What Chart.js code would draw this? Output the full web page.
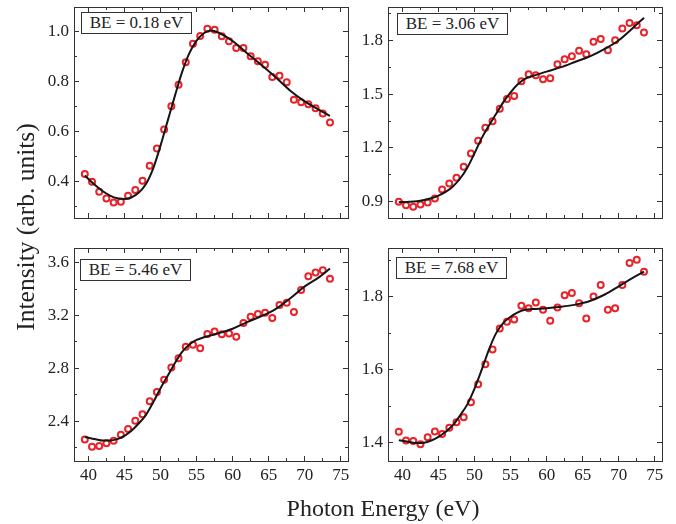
<!DOCTYPE html>
<html>
<head>
<meta charset="utf-8">
<script src="https://cdn.jsdelivr.net/npm/chart.js@4.4.0/dist/chart.umd.min.js"></script>
<style>
  body { margin: 0; background: #fff; }
  #wrap { position: relative; width: 676px; height: 524px; overflow: hidden; font-family: 'Liberation Serif', 'Times New Roman', serif; color: #222; }
  canvas { position: absolute; left: 0; top: 0; }
  .be { position: absolute; width: 109px; height: 20px; border: 1px solid #333; background: #fff; font-size: 17px; line-height: 20px; text-align: center; white-space: nowrap; }
  .title { position: absolute; white-space: nowrap; text-align: center; }
</style>
</head>
<body>
<div id="wrap">
  <canvas id="c1" width="676" height="524"></canvas>
  <canvas id="c2" width="676" height="524"></canvas>
  <canvas id="c3" width="676" height="524"></canvas>
  <canvas id="c4" width="676" height="524"></canvas>
  <div class="be" style="left:81px; top:12px;">BE = 0.18 eV</div>
  <div class="be" style="left:397px; top:13px;">BE = 3.06 eV</div>
  <div class="be" style="left:80px; top:259px;">BE = 5.46 eV</div>
  <div class="be" style="left:396px; top:257px;">BE = 7.68 eV</div>
  <div class="title" style="left:183px; top:496px; width:400px; font-size:24px; line-height:24px;">Photon Energy (eV)</div>
  <div class="title" style="left:-124px; top:212px; width:300px; height:30px; font-size:25.5px; line-height:30px; transform: rotate(-90deg);">Intensity (arb. units)</div>
</div>
<script>
// photon energies of the measured points
var photonEnergy = [39.5, 40.5, 41.5, 42.5, 43.5, 44.5, 45.5, 46.5, 47.5, 48.5,
  49.5, 50.5, 51.5, 52.5, 53.5, 54.5, 55.5, 56.5, 57.5, 58.5,
  59.5, 60.5, 61.5, 62.5, 63.5, 64.5, 65.5, 66.5, 67.5, 68.5,
  69.5, 70.5, 71.5, 72.5, 73.5];
// energies where the fit curve was read
var fitEnergy = [39.5, 41, 42, 43, 44, 45, 46, 47, 48, 49, 50, 51, 52, 53, 54,
  55, 56, 57, 58, 60, 62, 64, 66, 68, 70, 72, 73.5];

var be018 = [0.431, 0.400, 0.360, 0.333, 0.317, 0.320, 0.344, 0.367, 0.404, 0.464,
  0.533, 0.609, 0.703, 0.789, 0.879, 0.953, 0.984, 1.013, 1.009, 0.983,
  0.963, 0.936, 0.936, 0.903, 0.883, 0.869, 0.820, 0.825, 0.799, 0.729,
  0.719, 0.711, 0.695, 0.673, 0.637];
var be018Fit = [0.425, 0.385, 0.362, 0.345, 0.334, 0.331, 0.338, 0.357, 0.392, 0.455,
  0.545, 0.645, 0.745, 0.840, 0.915, 0.965, 0.995, 1.006, 0.998, 0.964,
  0.915, 0.868, 0.818, 0.765, 0.722, 0.688, 0.664];

var be306 = [0.900, 0.881, 0.872, 0.885, 0.896, 0.919, 0.969, 1.002, 1.034, 1.095,
  1.169, 1.240, 1.312, 1.349, 1.418, 1.472, 1.490, 1.572, 1.611, 1.605,
  1.583, 1.588, 1.666, 1.694, 1.711, 1.741, 1.722, 1.791, 1.807, 1.744,
  1.800, 1.865, 1.896, 1.883, 1.843];
var be306Fit = [0.898, 0.900, 0.903, 0.910, 0.920, 0.935, 0.955, 0.985, 1.030, 1.090,
  1.170, 1.255, 1.325, 1.390, 1.455, 1.510, 1.555, 1.585, 1.600, 1.625,
  1.650, 1.680, 1.710, 1.750, 1.800, 1.870, 1.925];

var be546 = [2.262, 2.207, 2.214, 2.234, 2.254, 2.299, 2.342, 2.405, 2.453, 2.551,
  2.621, 2.714, 2.807, 2.877, 2.963, 2.978, 2.952, 3.060, 3.078, 3.058,
  3.063, 3.040, 3.143, 3.191, 3.211, 3.221, 3.181, 3.279, 3.296, 3.226,
  3.392, 3.497, 3.525, 3.542, 3.477];
var be546Fit = [2.282, 2.265, 2.255, 2.255, 2.265, 2.290, 2.330, 2.385, 2.450, 2.545,
  2.650, 2.745, 2.840, 2.925, 2.980, 3.015, 3.035, 3.050, 3.065, 3.100,
  3.150, 3.195, 3.250, 3.330, 3.420, 3.490, 3.555];

var be768 = [1.430, 1.406, 1.405, 1.396, 1.415, 1.431, 1.424, 1.441, 1.456, 1.470,
  1.511, 1.560, 1.615, 1.655, 1.713, 1.731, 1.737, 1.775, 1.768, 1.784,
  1.764, 1.734, 1.770, 1.804, 1.810, 1.782, 1.740, 1.800, 1.832, 1.764,
  1.768, 1.832, 1.892, 1.901, 1.868];
var be768Fit = [1.407, 1.402, 1.399, 1.400, 1.406, 1.416, 1.430, 1.448, 1.475, 1.505,
  1.548, 1.600, 1.655, 1.700, 1.728, 1.745, 1.757, 1.764, 1.766, 1.768,
  1.772, 1.778, 1.788, 1.805, 1.828, 1.852, 1.868];

var energyTicks = [40, 45, 50, 55, 60, 65, 70, 75];
var energyMinorTicks = [42.5, 47.5, 52.5, 57.5, 62.5, 67.5, 72.5];

var ticks018 = [0.4, 0.6, 0.8, 1.0];
var minor018 = [0.3, 0.5, 0.7, 0.9];
var ticks306 = [0.9, 1.2, 1.5, 1.8];
var minor306 = [1.05, 1.35, 1.65, 1.95];
var ticks546 = [2.4, 2.8, 3.2, 3.6];
var minor546 = [2.2, 2.6, 3.0, 3.4];
var ticks768 = [1.4, 1.6, 1.8];
var minor768 = [1.5, 1.7, 1.9];

var frameColor = '#333';
var tickFont = { family: 'Liberation Serif', size: 17 };
var yLabelWidth = 45;
var xLabelHeight = 30;

function pairs(xs, ys) {
  var out = [];
  for (var i = 0; i < xs.length; i++) out.push({ x: xs[i], y: ys[i] });
  return out;
}

// len 5 = major ticks (and the frame line), len 3 = minor ticks
function axis(pos, min, max, tickVals, len, showLabels) {
  var horiz = (pos === 'top' || pos === 'bottom');
  var labelled = (pos === 'bottom' || pos === 'left') && len === 5;
  return {
    type: 'linear',
    position: pos,
    min: min,
    max: max,
    weight: len === 5 ? 1 : 0,
    afterBuildTicks: function(s) {
      s.ticks = tickVals.map(function(v) { return { value: v }; });
    },
    afterFit: function(s) {
      var size = labelled ? (horiz ? xLabelHeight : yLabelWidth) : 0;
      if (horiz) s.height = size; else s.width = size;
      s.paddingLeft = 0; s.paddingRight = 0; s.paddingTop = 0; s.paddingBottom = 0;
    },
    grid: { drawOnChartArea: false, drawTicks: true, tickLength: -len, tickColor: frameColor, tickWidth: 1 },
    border: { display: len === 5, color: frameColor, width: 1 },
    ticks: {
      display: showLabels,
      autoSkip: false,
      maxRotation: 0,
      padding: horiz ? 9 : 10,
      color: '#222',
      font: tickFont,
      callback: function(v) { return horiz ? String(v) : v.toFixed(1); }
    }
  };
}

function makePanel(id, area, yMin, yMax, yMajor, yMinor, values, fitValues, xLabels) {
  var ctx = document.getElementById(id).getContext('2d');
  return new Chart(ctx, {
    type: 'scatter',
    data: {
      datasets: [
        {
          data: pairs(fitEnergy, fitValues),
          showLine: true,
          borderColor: '#151515',
          borderWidth: 2,
          pointRadius: 0,
          cubicInterpolationMode: 'monotone',
          fill: false,
          order: 0,
          xAxisID: 'x', yAxisID: 'y'
        },
        {
          data: pairs(photonEnergy, values),
          showLine: false,
          borderColor: '#e8232a',
          backgroundColor: 'rgba(0,0,0,0)',
          pointBorderColor: '#e8232a',
          pointBackgroundColor: 'rgba(0,0,0,0)',
          pointRadius: 3,
          pointBorderWidth: 2,
          order: 1,
          xAxisID: 'x', yAxisID: 'y'
        }
      ]
    },
    options: {
      responsive: false,
      devicePixelRatio: 1,
      animation: false,
      layout: { padding: {
        left: area[0] - yLabelWidth,
        top: area[1],
        right: 676 - area[2],
        bottom: 524 - area[3] - xLabelHeight
      } },
      plugins: { legend: { display: false }, tooltip: { enabled: false } },
      scales: {
        x: axis('bottom', 38, 76, energyTicks, 5, xLabels),
        xMinor: axis('bottom', 38, 76, energyMinorTicks, 3, false),
        xTop: axis('top', 38, 76, energyTicks, 5, false),
        xTopMinor: axis('top', 38, 76, energyMinorTicks, 3, false),
        y: axis('left', yMin, yMax, yMajor, 5, true),
        yMinor: axis('left', yMin, yMax, yMinor, 3, false),
        yRight: axis('right', yMin, yMax, yMajor, 5, false),
        yRightMinor: axis('right', yMin, yMax, yMinor, 3, false)
      }
    }
  });
}

makePanel('c1', [74, 7, 348, 218], 0.255, 1.1, ticks018, minor018, be018, be018Fit, false);
makePanel('c2', [388, 7, 662, 218], 0.81, 1.985, ticks306, minor306, be306, be306Fit, false);
makePanel('c3', [74, 248, 348, 461], 2.1, 3.71, ticks546, minor546, be546, be546Fit, true);
makePanel('c4', [388, 248, 662, 461], 1.35, 1.933, ticks768, minor768, be768, be768Fit, true);
</script>
</body>
</html>
